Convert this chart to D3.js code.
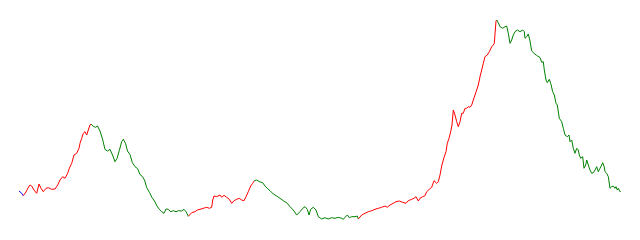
<!DOCTYPE html>
<html>
<head>
<meta charset="utf-8">
<script src="https://cdn.jsdelivr.net/npm/d3@7"></script>
<style>
  html, body { margin: 0; padding: 0; background: #fff; }
  svg { display: block; }
</style>
</head>
<body>
<svg id="chart" width="640" height="240"></svg>
<script>
// time index (days) of each sample
const days = [
  0, 2.7, 4.3,
  7, 9, 11, 12.7, 15, 17.7, 20, 22, 24.3, 27, 29.3, 32.7, 36, 38.7, 41, 43.7, 46, 48.7, 50.3, 52.7, 55, 57.7, 60, 61, 62.7, 64.3, 66, 67.7, 69.3, 71, 72,
  74.3, 76.5, 78.5, 81, 83.5, 86, 88.5, 91, 93.5, 96, 98, 100.3, 102.7, 104.3, 106.5, 108.5, 111, 113.3, 116, 118.5, 121, 123.3, 125.5, 127.7, 130.5, 133, 135.5, 138, 140.5, 142.7, 145, 147, 149.3, 151.7, 154.3, 157, 159.3, 162.7, 165, 167, 169.3,
  172.7, 176, 178.3, 181, 184.3, 187.7, 190.3, 192.7, 193.7, 195, 197.7, 201, 202.7, 205, 207.7, 210.3, 212.7, 215, 217.7, 220.3, 222.7, 225, 227, 229.3, 231.7, 233.7, 235.3,
  237.7, 240.3, 243.7, 246, 248.3, 251, 254.3, 257.7, 261, 264.3, 268.3, 271, 274.3, 277.7, 281, 283.7, 286, 288.3, 290, 291.7, 294.3, 297, 299.3, 302.7, 306, 309.3, 312.7, 316, 319.3, 322.7, 324.3, 326, 328.3, 330.3, 332.7, 336, 338.3, 339.3,
  342.7, 346, 349.3, 352.7, 356, 359.3, 362.7, 366, 368.3, 371, 374.3, 377, 380.3, 383.7, 387, 389.3, 392.7, 395, 397, 399.3, 401, 403.7, 406, 407.7, 410.3, 412.7, 415, 417.7, 419.3, 421, 422.7, 425, 427, 428.3, 430, 431.7, 433, 434.3, 436, 437.7, 439.3, 441, 442.7, 444.3, 446, 447.7, 449.3, 451, 452.7, 454.3, 456, 457.7, 459.3, 461, 462.7, 464.3, 466, 468.3, 470.3, 472.7, 474.3, 475.3, 476.3, 477, 477.7,
  479.3, 481, 483.7, 486, 487.7, 489.3, 491, 492.7, 494.3, 496, 498.3, 501, 503.7, 505.3, 506, 507.7, 509.3, 511, 512.7, 515, 517.7, 521, 522.7, 524.3, 525.3, 527, 528.3, 530.3, 531.7, 533.7, 535.3, 537, 538.3, 540.3, 542.7, 544.3, 546, 548.3, 550, 551, 552.7, 554.3, 556, 557.7, 559.3, 560.3, 561.7, 563.7, 565, 566.7, 567.7, 569.3, 571, 572.7, 574.3, 576, 577.7, 579.3, 581, 582.7, 583.7, 585, 586, 587.7, 589.3, 591, 592.7, 594.3, 596, 597, 598.3, 599.3, 601, 601.7
];
// observed value of each sample
const values = [
  39, 36.7, 34.3,
  38, 42, 45, 44, 40, 36.7, 46, 41.7, 38.3, 41.7, 42.3, 40.7, 41, 45, 50, 53.3, 51.7, 56.7, 61.7, 66.7, 75, 76.7, 81.7, 86.7, 91.7, 96.7, 98.3, 95, 100, 105, 106,
  103.7, 102.7, 104, 99, 91, 80.5, 79, 80.7, 75, 68.3, 71.5, 79.5, 88.3, 90.7, 86.7, 79, 75.5, 67.5, 63.3, 61.5, 55.5, 53.5, 50, 42.5, 37.5, 32.5, 29, 24, 20.5, 18.3, 16.7, 21, 20.7, 18.3, 19.3, 18.3, 19.3, 19, 20.7, 18.3, 13.7,
  17.3, 18.3, 20, 20.7, 21.7, 22.7, 21.7, 22.7, 30, 34, 33.3, 35, 32.7, 34.7, 32.7, 30.7, 26.7, 29.3, 30.7, 31.7, 30, 29.3, 33.3, 38.3, 44, 46.7, 49.3,
  50, 48.3, 47.3, 44, 41.7, 39.3, 36, 34, 31.7, 29.3, 26.7, 23.3, 20, 15, 18.3, 21.7, 23.3, 20.7, 15, 20.7, 22.7, 20, 13.3, 11, 12.3, 11, 12.3, 11.7, 12.7, 11.7, 10.7, 12.7, 15, 12.3, 13.3, 13.3, 14, 11,
  15, 16.7, 18.3, 19.3, 20.7, 21.7, 22.7, 24, 22.7, 25, 26.7, 28.3, 29, 27.7, 26.7, 29.3, 30.7, 31.7, 33.3, 29, 31.7, 33.3, 34.3, 38.3, 40.7, 42.7, 49.3, 46.7, 48.3, 55, 64, 72.5, 78.3, 86.7, 91.7, 98.3, 105, 120, 115, 108.3, 103.3, 108.3, 116.7, 116.7, 121.7, 121.7, 123.3, 122.7, 125, 130, 135, 140, 145, 153.3, 160, 166.7, 173.3, 175, 178.3, 183.3, 185, 186.7, 200, 209, 210,
  207.3, 203.3, 201.7, 203.3, 204, 196.7, 186.7, 190, 195, 198.3, 200, 198.3, 200, 198.3, 191.7, 193.3, 196, 189, 179, 176.7, 174.5, 172.5, 167.7, 168.3, 160, 150, 147.3, 150.7, 146.7, 138.3, 135, 126.7, 125, 111.7, 108.3, 101.7, 95, 93.3, 95, 88.3, 90, 81.7, 76.7, 81.7, 80, 75, 71.7, 73.3, 61.7, 65, 70, 65, 60, 56.7, 57.3, 60, 63.3, 58.3, 61.7, 65, 67.3, 64, 58.3, 56.7, 53.3, 41.7, 43.3, 44, 41.7, 43.3, 40, 41.7, 38.3, 39
];
// trend regimes: start day of each regime and its colour
const trendStarts = [0, 4.3, 72, 169.3, 235.3, 339.3, 477.7];
const trendNames  = ["flat", "up", "down", "up", "down", "up", "down"];
const trendColors = { flat: "#0000ff", up: "#ff0000", down: "#008000" };

const svg = d3.select("#chart");
const W = 640, H = 240;
const margin = { top: 20, right: 19.3, bottom: 20.7, left: 19 };

const x = d3.scaleLinear()
  .domain([0, d3.max(days)])
  .range([margin.left, W - margin.right]);
const y = d3.scaleLinear()
  .domain([10.7, 210])
  .range([H - margin.bottom, margin.top]);

const pts = days.map((d, i) => ({ t: d, v: values[i] }));
const line = d3.line().x(d => x(d.t)).y(d => y(d.v));

trendStarts.forEach((s, k) => {
  const e = k + 1 < trendStarts.length ? trendStarts[k + 1] : Infinity;
  const seg = pts.filter(p => p.t >= s && p.t <= e);
  svg.append("path")
    .datum(seg)
    .attr("fill", "none")
    .attr("stroke", trendColors[trendNames[k]])
    .attr("stroke-width", 1)
    .attr("stroke-linejoin", "round")
    .attr("d", line);
});
</script>
</body>
</html>
